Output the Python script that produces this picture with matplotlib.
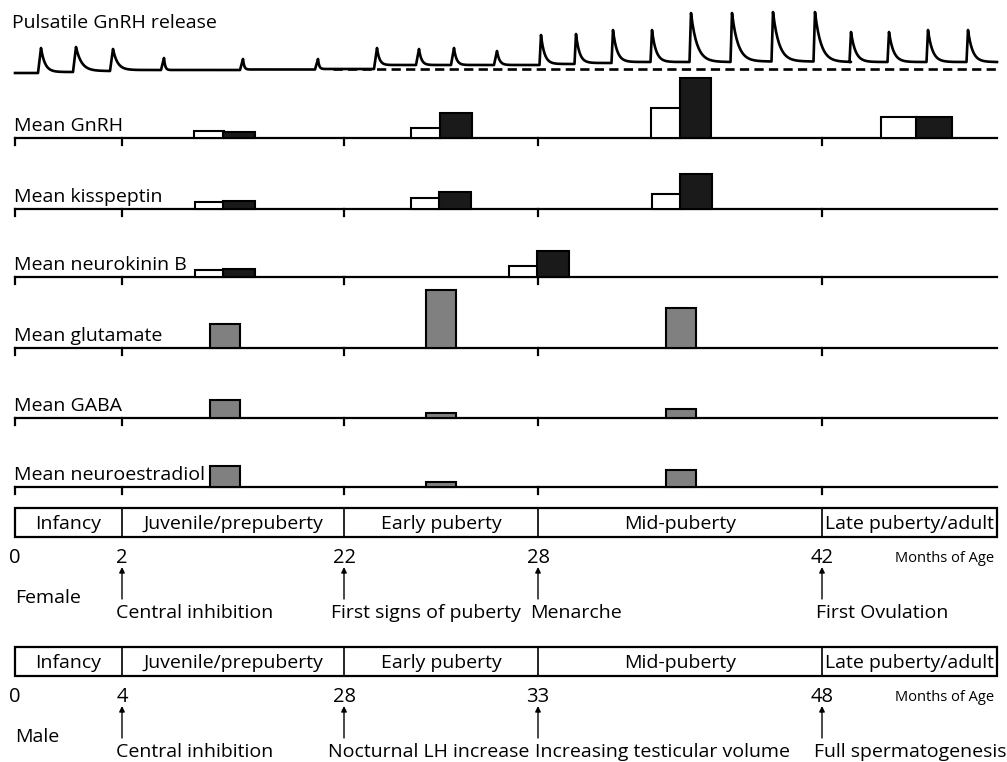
import numpy as np
import matplotlib.pyplot as plt
from matplotlib.patches import Rectangle

plt.rcParams['font.family'] = ['Open Sans', 'DejaVu Sans']

# stages shared by every row
stages = ['Infancy', 'Juvenile/prepuberty', 'Early puberty', 'Mid-puberty', 'Late puberty/adult']
female_ages = ['0', '2', '22', '28', '42']
male_ages = ['0', '4', '28', '33', '48']
female_events = ['Central inhibition', 'First signs of puberty', 'Menarche', 'First Ovulation']
male_events = ['Central inhibition', 'Nocturnal LH increase', 'Increasing testicular volume', 'Full spermatogenesis']

# pulsatile GnRH trace (pulse time, peak level, baseline level after the pulse)
pulse_x = [41, 76, 113, 164, 243, 318, 377, 419, 454, 497, 541, 576, 613, 652,
           691, 732, 773, 815, 851, 889, 928, 968]
pulse_peak = [48, 47, 49, 58, 59, 59, 48, 49, 48, 51, 35, 34, 30, 30,
              13, 13, 12, 12, 32, 32, 30, 30]
pulse_base = [72, 71, 70, 70, 69.5, 69, 65, 65, 65, 65, 64, 63, 62, 62,
              62, 61.5, 61.5, 62, 62, 62, 62, 62]
start_base = 73

# mean levels, open / filled bar of each pair
row_names = ['Mean GnRH', 'Mean kisspeptin', 'Mean neurokinin B',
             'Mean glutamate', 'Mean GABA', 'Mean neuroestradiol']
gnrh_open = [8, 11, 31, 22]
gnrh_solid = [7, 26, 61, 22]
kiss_open = [8, 12, 16]
kiss_solid = [9, 18, 36]
nkb_open = [8, 12]
nkb_solid = [9, 27]
glutamate = [25, 59, 41]
gaba = [19, 6, 10]
estradiol = [22, 6, 18]

# ---- layout (pixel-like units, y grows downward) ----
edges = [15, 122, 344, 538, 822, 997]
row_y = [138, 209, 277, 348, 418, 487]
pair_x = {0: [193, 410, 650, 880], 1: [194, 410, 651], 2: [194, 508]}
pair_w = {0: [(30, 33), (30, 33), (30, 32), (36, 37)],
          1: [(29, 33)] * 3, 2: [(29, 33)] * 2}
gray_x = [209, 425, 665]
decay = [4, 5.5, 4.5, 1.2, 1.2, 1.2, 2.5, 2.5, 2.5, 2.5, 3.5, 3.5, 4, 4,
         6, 6, 6, 6, 4.5, 4.5, 4.5, 4.5]
rise = [3, 3, 3, 3, 3, 3, 3, 3, 3, 3, 1.5, 1.5, 1.5, 1.5,
        1.5, 1.5, 1.5, 1.5, 1.5, 1.5, 1.5, 1.5]

fig = plt.figure(figsize=(10.07, 7.62), dpi=100)
ax = fig.add_axes([0, 0, 1, 1])
ax.set_xlim(0, 1007)
ax.set_ylim(762, 0)
ax.axis('off')

FS = 14

# pulse trace
tx, ty = [15], [start_base]
prev = start_base
for i, x in enumerate(pulse_x):
    tx += [x - rise[i], x]
    ty += [prev, pulse_peak[i]]
    t = np.linspace(0, 6 * decay[i], 25)
    b = pulse_base[i]
    tx += list(x + t)
    ty += list(b - (b - pulse_peak[i]) * np.exp(-t / decay[i]))
    prev = b
tx.append(997)
ty.append(prev)
ax.plot([333, 997], [69, 69], color='black', lw=1.9, dashes=(3.5, 2.0))
ax.plot(tx, ty, color='black', lw=1.9, solid_joinstyle='round')
ax.text(12, 28, 'Pulsatile GnRH release', fontsize=FS, va='baseline')

# bar rows
for y, name in zip(row_y, row_names):
    ax.plot([edges[0], edges[-1]], [y, y], color='black', lw=1.6)
    for ex in edges[:-1]:
        ax.plot([ex, ex], [y, y + 7], color='black', lw=1.6)
    ax.text(14, y - 7, name, fontsize=FS, va='baseline')

pairs = [(gnrh_open, gnrh_solid), (kiss_open, kiss_solid), (nkb_open, nkb_solid)]
for r, (op, so) in enumerate(pairs):
    y = row_y[r]
    for j, (ho, hs) in enumerate(zip(op, so)):
        x0 = pair_x[r][j]
        wo, ws = pair_w[r][j]
        ax.bar(x0 + 1, -(ho - 1), wo, bottom=y, align='edge',
               facecolor='white', edgecolor='black', lw=1.5, zorder=3)
        ax.bar(x0 + wo, -(hs - 1), ws - 1, bottom=y, align='edge',
               facecolor='#1a1a1a', edgecolor='black', lw=1.5, zorder=3)

for r, vals in zip([3, 4, 5], [glutamate, gaba, estradiol]):
    ax.bar([g + 1 for g in gray_x], [-(v - 1) for v in vals], 30, bottom=row_y[r],
           align='edge', facecolor='#808080', edgecolor='black', lw=1.5, zorder=3)


def timeline(top, ages, events, event_x, sex):
    ax.add_patch(Rectangle((edges[0], top), edges[-1] - edges[0], 29,
                           fill=False, lw=1.6, edgecolor='black'))
    for ex in edges[1:-1]:
        ax.plot([ex, ex], [top, top + 29], color='black', lw=1.2)
    for i, s in enumerate(stages):
        ax.text((edges[i] + edges[i + 1]) / 2, top + 21, s, fontsize=FS,
                ha='center', va='baseline')
    for ex, a in zip(edges[:-1], ages):
        ax.text(ex, top + 55, a, fontsize=FS + 0.5, ha='center', va='baseline')
    ax.text(994, top + 54, 'Months of Age', fontsize=10.5, ha='right', va='baseline')
    for ex in edges[1:5]:
        ax.annotate('', xy=(ex, top + 59), xytext=(ex, top + 91),
                    arrowprops=dict(arrowstyle='-|>', lw=1.0, color='black',
                                    mutation_scale=8, shrinkA=0, shrinkB=0))
    ax.text(15, top + 95, sex, fontsize=FS, va='baseline')
    for ex, ev in zip(event_x, events):
        ax.text(ex, top + 110, ev, fontsize=FS, va='baseline')


timeline(508, female_ages, female_events, [116, 331, 530, 816], 'Female')
timeline(647, male_ages, male_events, [116, 328, 535, 814], 'Male')

fig.savefig('out.png', dpi=100, facecolor='white')
